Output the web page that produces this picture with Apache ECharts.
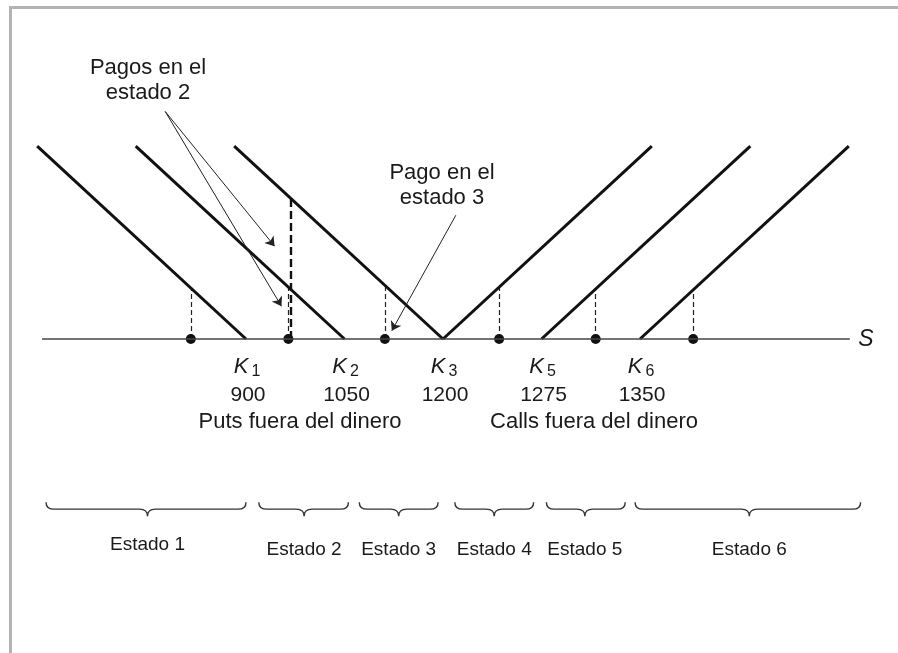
<!DOCTYPE html>
<html>
<head>
<meta charset="utf-8">
<title>Estados y pagos</title>
<script src="https://cdn.jsdelivr.net/npm/echarts@6/dist/echarts.min.js"></script>
<style>
  html, body { margin: 0; padding: 0; background: #fff; }
  #chart { width: 898px; height: 653px; }
</style>
</head>
<body>
<div id="chart"></div>
<script>
// strikes: drawn evenly spaced on the diagram (not to scale)
const strikePos = [1, 2, 3, 4, 5];
const strikeSubs = ['1', '2', '3', '5', '6'];
const strikeValues = [900, 1050, 1200, 1275, 1350];
const putStrikes = [1, 2, 3];
const callStrikes = [3, 4, 5];
const payoffTop = 2.12;

// states marked on the S axis and the option each one is read from
const statePoints = [0.44, 1.43, 2.41, 3.57, 4.55, 5.54];
const stateStrike = [1, 2, 3, 3, 4, 5];
const boldDash = [1.45, 3]; // state 2 also read from the K3 put

// braces under the axis
const stateNames = ['Estado 1', 'Estado 2', 'Estado 3', 'Estado 4', 'Estado 5', 'Estado 6'];
const braceFrom = [-1.03, 1.13, 2.15, 3.12, 4.05, 4.95];
const braceTo = [1.0, 2.04, 2.95, 3.92, 4.85, 7.24];
const braceTip = [0.0, 1.59, 2.55, 3.52, 4.44, 6.11];

const axisRange = [-1.07, 7.13];
const arrowsState2 = [[[0.18, 2.5], [1.29, 1.02]], [[0.18, 2.5], [1.36, 0.36]]];
const arrowState3 = [[3.13, 1.36], [2.48, 0.09]];

const font = '"Liberation Sans", Arial, sans-serif';
const ink = '#1a1a1a';

const payoffSegments = [];
putStrikes.forEach(i => {
  const k = strikePos[i - 1];
  payoffSegments.push({ coords: [[k - payoffTop, payoffTop], [k, 0]] });
});
callStrikes.forEach(i => {
  const k = strikePos[i - 1];
  payoffSegments.push({ coords: [[k, 0], [k + payoffTop, payoffTop]] });
});

const thinDashes = statePoints.map((s, i) => {
  const k = strikePos[stateStrike[i] - 1];
  return { coords: [[s, 0], [s, Math.abs(k - s)]] };
});
const boldK = strikePos[boldDash[1] - 1];
const boldDashes = [{ coords: [[boldDash[0], 0], [boldDash[0], boldK - boldDash[0]]] }];

const chart = echarts.init(document.getElementById('chart'));

function renderBrace(params, api) {
  const i = params.dataIndex;
  const a = api.coord([api.value(0), -1.87]);
  const b = api.coord([api.value(1), -1.87]);
  const t = api.coord([api.value(2), -1.87]);
  const y = a[1];
  const c = 8;
  const d = [
    'M', a[0], y - 7, 'Q', a[0], y, a[0] + c, y, 'L', t[0] - c, y, 'Q', t[0], y, t[0], y + 7,
    'M', t[0], y + 7, 'Q', t[0], y, t[0] + c, y, 'L', b[0] - c, y, 'Q', b[0], y, b[0], y - 7
  ].join(' ');
  return {
    type: 'group',
    children: [
      {
        type: 'path',
        shape: { pathData: d },
        style: { fill: 'none', stroke: '#333', lineWidth: 1.4 }
      },
      {
        type: 'text',
        x: t[0],
        y: y + (i === 0 ? 36 : 41),
        style: {
          text: stateNames[i],
          fill: ink,
          font: '19px ' + font,
          align: 'center',
          textAlign: 'center',
          verticalAlign: 'middle',
          textVerticalAlign: 'middle'
        }
      }
    ]
  };
}

function textEl(text, x, y, size, extra) {
  return {
    type: 'text',
    x: x,
    y: y,
    silent: true,
    style: Object.assign({
      text: text,
      fill: ink,
      font: size + 'px ' + font,
      lineHeight: 25,
      align: 'center',
      textAlign: 'center',
      verticalAlign: 'middle',
      textVerticalAlign: 'middle'
    }, extra || {})
  };
}

const option = {
  animation: false,
  backgroundColor: '#fff',
  grid: { left: 0, right: 0, top: 0, bottom: 0 },
  xAxis: { type: 'value', min: -1.4975, max: 7.6193, show: false },
  yAxis: { type: 'value', min: -3.4505, max: 3.7253, show: false },
  graphic: [
    { type: 'line', shape: { x1: 9, y1: 7.5, x2: 898, y2: 7.5 }, style: { stroke: '#b3b3b3', lineWidth: 3 } },
    { type: 'line', shape: { x1: 10.5, y1: 6, x2: 10.5, y2: 653 }, style: { stroke: '#b3b3b3', lineWidth: 3 } },
    textEl('Pagos en el\nestado 2', 148, 80.5, 22),
    textEl('Pago en el\nestado 3', 442, 185.5, 22),
    textEl('Puts fuera del dinero', 300, 422, 22),
    textEl('Calls fuera del dinero', 594, 422, 22),
    textEl('S', 866, 340, 23, { font: 'italic 23px ' + font })
  ],
  series: [
    {
      // S axis
      type: 'line',
      data: [[axisRange[0], 0], [axisRange[1], 0]],
      symbol: 'none',
      lineStyle: { color: '#444', width: 1.5 },
      silent: true
    },
    {
      type: 'lines',
      coordinateSystem: 'cartesian2d',
      data: thinDashes,
      lineStyle: { color: '#222', width: 1.2, type: [5, 3], opacity: 1 },
      silent: true
    },
    {
      type: 'lines',
      coordinateSystem: 'cartesian2d',
      data: boldDashes,
      lineStyle: { color: '#111', width: 2.4, type: [8, 4], opacity: 1 },
      silent: true
    },
    {
      type: 'lines',
      coordinateSystem: 'cartesian2d',
      data: payoffSegments,
      lineStyle: { color: '#111', width: 3, opacity: 1 },
      silent: true
    },
    {
      type: 'scatter',
      data: statePoints.map(s => [s, 0]),
      symbolSize: 10,
      itemStyle: { color: '#111', opacity: 1 },
      silent: true
    },
    {
      // arrows
      type: 'lines',
      coordinateSystem: 'cartesian2d',
      data: arrowsState2.concat([arrowState3]).map(c => ({ coords: c })),
      symbol: ['none', 'arrow'],
      symbolSize: [0, 9],
      lineStyle: { color: '#222', width: 1, opacity: 1 },
      silent: true
    },
    {
      // strike names
      type: 'scatter',
      data: strikePos.map(k => [k, 0]),
      symbolSize: 0,
      itemStyle: { opacity: 1 },
      silent: true,
      label: {
        show: true,
        position: 'inside',
        offset: [1, 28],
        formatter: p => '{k|K}{s|' + strikeSubs[p.dataIndex] + '}',
        rich: {
          k: { fontSize: 22, fontStyle: 'italic', fontFamily: font, color: ink },
          s: { fontSize: 16, fontFamily: font, color: ink, padding: [10, 0, 0, 3] }
        }
      }
    },
    {
      // strike values
      type: 'scatter',
      data: strikePos.map(k => [k, 0]),
      symbolSize: 0,
      itemStyle: { opacity: 1 },
      silent: true,
      label: {
        show: true,
        position: 'inside',
        offset: [2, 56],
        formatter: p => String(strikeValues[p.dataIndex]),
        fontSize: 21,
        fontFamily: font,
        color: ink
      }
    },
    {
      type: 'custom',
      renderItem: renderBrace,
      data: braceFrom.map((f, i) => [f, braceTo[i], braceTip[i]]),
      silent: true
    }
  ]
};

chart.setOption(option);
</script>
</body>
</html>
